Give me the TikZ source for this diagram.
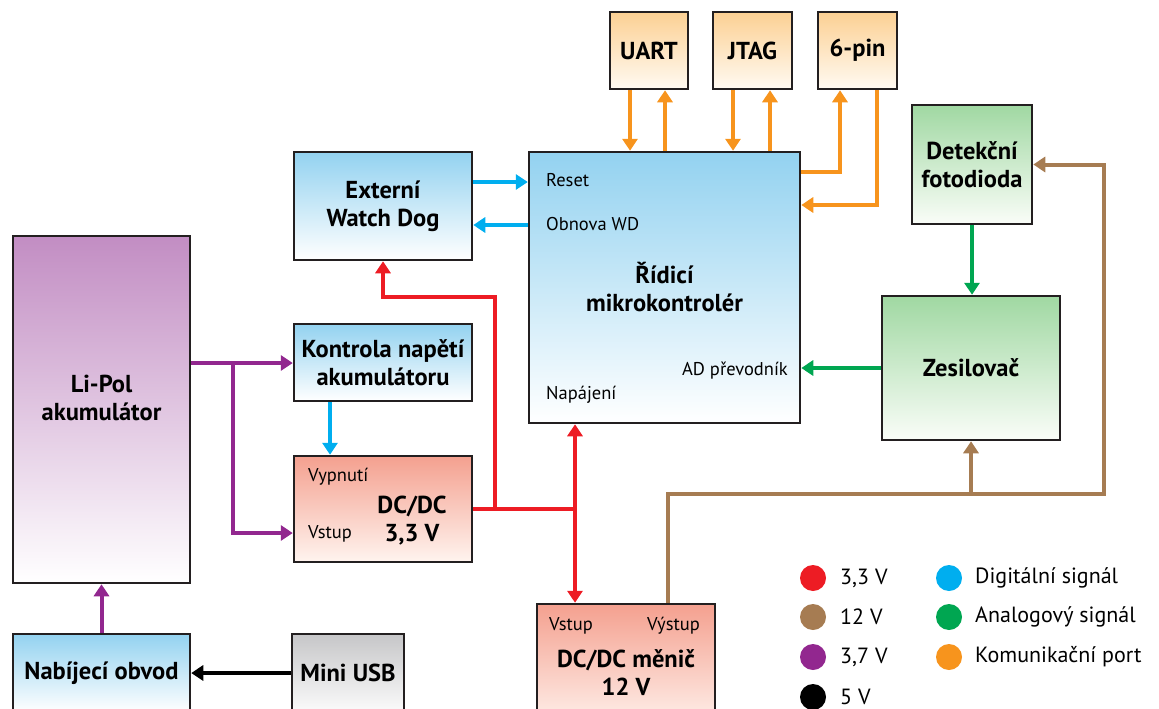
\documentclass[tikz,border=0pt]{standalone}
\usepackage{fontspec}
\setmainfont{PT Sans}
\usetikzlibrary{arrows.meta,calc}
\definecolor{cborder}{HTML}{231F20}
\definecolor{cred}{HTML}{ED1C24}
\definecolor{cbrown}{HTML}{A67C52}
\definecolor{cpurple}{HTML}{92278F}
\definecolor{cblue}{HTML}{00AEEF}
\definecolor{cgreen}{HTML}{00A651}
\definecolor{corange}{HTML}{F7941D}
\definecolor{blueTop}{HTML}{93D2F0}
\definecolor{blueBot}{HTML}{FFFFFF}
\definecolor{purTop}{HTML}{C28DC3}
\definecolor{purBot}{HTML}{FFFFFF}
\definecolor{salTop}{HTML}{F4A08F}
\definecolor{salBot}{HTML}{FFF4EF}
\definecolor{grnTop}{HTML}{A0D8A2}
\definecolor{grnBot}{HTML}{FAFDF8}
\definecolor{oraTop}{HTML}{FCD093}
\definecolor{oraBot}{HTML}{FFFAF2}
\definecolor{gryTop}{HTML}{C6C6C8}
\definecolor{gryBot}{HTML}{FBFBFB}
\tikzset{
  blk/.style={draw=cborder, line width=2.5pt, inner sep=0pt, align=center,
    font=\fontsize{24.5}{28}\selectfont\bfseries},
  ttl/.style={inner sep=0pt, align=center, font=\fontsize{24.5}{28}\selectfont\bfseries},
  lbl/.style={inner sep=0pt, font=\fontsize{18.5}{20}\selectfont},
  legtxt/.style={inner sep=0pt, anchor=west, text=black, font=\fontsize{22}{25}\selectfont},
  wire/.style={line width=4pt},
  tip/.style={-{Triangle[length=12pt,width=15pt]}},
  tips/.style={{Triangle[length=12pt,width=15pt]}-{Triangle[length=12pt,width=15pt]}},
  bluebox/.style={blk, top color=blueTop, bottom color=blueBot},
  purbox/.style={blk, top color=purTop, bottom color=purBot},
  salbox/.style={blk, top color=salTop, bottom color=salBot},
  grnbox/.style={blk, top color=grnTop, bottom color=grnBot},
  orabox/.style={blk, top color=oraTop, bottom color=oraBot},
  grybox/.style={blk, top color=gryTop, bottom color=gryBot},
}
\begin{document}
\begin{tikzpicture}[x=1pt,y=-1pt]
\useasboundingbox (0,0) rectangle (1159,709);
\clip (0,0) rectangle (1159,709);

% ---- blocks ----
\node[orabox, minimum width=78pt, minimum height=77pt] (uart) at (649,50.5) {UART};
\node[orabox, minimum width=79pt, minimum height=77pt] (jtag) at (752.5,50.5) {JTAG};
\node[orabox, minimum width=79pt, minimum height=77pt] (sixpin) at (857.5,50.5) {6-pin};

\node[bluebox, minimum width=271pt, minimum height=271pt] (mcu) at (664.5,287.5) {Řídicí\\mikrokontrolér};
\node[bluebox, minimum width=178pt, minimum height=108pt] (wd) at (383,206) {Externí\\Watch Dog};
\node[purbox, minimum width=177pt, minimum height=347pt] (lipol) at (101.5,409.5) {};
\node[ttl] (lipolt) at (101.5,398) {Li-Pol\\akumulátor};
\node[bluebox, minimum width=178pt, minimum height=77pt] (kontrola) at (383,362.5) {Kontrola napětí\\akumulátoru};
\node[salbox, minimum width=178pt, minimum height=106pt] (dc33) at (383,509) {};
\node[bluebox, minimum width=177pt, minimum height=78pt] (nab) at (101.5,673) {Nabíjecí obvod};
\node[grybox, minimum width=112pt, minimum height=78pt] (musb) at (348,673) {Mini USB};
\node[salbox, minimum width=178pt, minimum height=126pt] (dc12) at (626,667) {};
\node[grnbox, minimum width=120pt, minimum height=119pt] (foto) at (972,164.5) {Detekční\\fotodioda};
\node[grnbox, minimum width=178pt, minimum height=144pt] (zes) at (971,368) {Zesilovač};

% ---- texts inside blocks ----
\node[lbl, anchor=west] (lreset) at (546,180) {Reset};
\node[lbl, anchor=west] (lobnova) at (546,224) {Obnova WD};
\node[lbl, anchor=east] (lad) at (788,371) {AD převodník};
\node[lbl, anchor=west] (lnap) at (546,395) {Napájení};
\node[lbl, anchor=west] (lvyp) at (308,477) {Vypnutí};
\node[lbl, anchor=west] (lvst1) at (308,534) {Vstup};
\node[ttl] (dc33t) at (412,521) {DC/DC\\3,3 V};
\node[lbl, anchor=west] (lvst2) at (549,626) {Vstup};
\node[lbl, anchor=east] (lvys) at (700,626) {Výstup};
\node[ttl] (dc12t) at (626,673) {DC/DC měnič\\12 V};

% ---- helper coordinates ----
\coordinate (u1) at (630,0);
\coordinate (u2) at (665,0);
\coordinate (j1) at (733,0);
\coordinate (j2) at (770,0);
\coordinate (s1) at (840,172);
\coordinate (s2) at (877,205);
\coordinate (r1) at (500,182);
\coordinate (r2) at (500,225);
\coordinate (k1) at (330,0);
\coordinate (p1) at (233,363);
\coordinate (p2) at (233,533);
\coordinate (rr) at (495,297);
\coordinate (v1) at (575,0);
\coordinate (b1) at (668,494);
\coordinate (b2) at (1104,494);

% ---- orange: communication ----
\draw[wire, corange, tip] (u1 |- uart.south) -- (u1 |- mcu.north);
\draw[wire, corange, tip] (u2 |- mcu.north) -- (u2 |- uart.south);
\draw[wire, corange, tip] (j1 |- jtag.south) -- (j1 |- mcu.north);
\draw[wire, corange, tip] (j2 |- mcu.north) -- (j2 |- jtag.south);
\draw[wire, corange, tip] (s1 -| mcu.east) -| (s1 |- sixpin.south);
\draw[wire, corange, tip] (s2 |- sixpin.south) |- (s2 -| mcu.east);

% ---- blue: digital ----
\draw[wire, cblue, tip] (r1 -| wd.east) -- (r1 -| mcu.west);
\draw[wire, cblue, tip] (r2 -| mcu.west) -- (r2 -| wd.east);
\draw[wire, cblue, tip] (k1 |- kontrola.south) -- (k1 |- dc33.north);

% ---- purple: 3,7 V ----
\draw[wire, cpurple, tip] (p1 -| lipol.east) -- (p1 -| kontrola.west);
\draw[wire, cpurple, tip] ([yshift=-2pt]p1) |- (p2 -| dc33.west);
\draw[wire, cpurple, tip] (nab.north) -- (lipol.south);

% ---- black: 5 V ----
\draw[wire, black, tip] (musb.west) -- (nab.east);

% ---- red: 3,3 V ----
\draw[wire, cred] (dc33.east) -- (v1 |- dc33.east);
\draw[wire, cred, tip] (rr |- dc33.east) -- (rr) -| (wd.south);
\draw[wire, cred, tips] (v1 |- mcu.south) -- (v1 |- dc12.north);

% ---- brown: 12 V ----
\draw[wire, cbrown, tip] (b1 |- dc12.north) -- (b1) -- (b2) |- (foto.east);
\draw[wire, cbrown, tip] (zes.south |- b1) -- (zes.south);

% ---- green: analog ----
\draw[wire, cgreen, tip] (foto.south) -- (foto.south |- zes.north);
\draw[wire, cgreen, tip] (zes.west) -- (zes.west -| mcu.east);

% ---- legend ----
\fill[cred] (813,578) circle (13);
\node[legtxt] (lg1) at (840,578) {3,3 V};
\fill[cbrown] (813,617) circle (13);
\node[legtxt] (lg2) at (840,617) {12 V};
\fill[cpurple] (813,657) circle (13);
\node[legtxt] (lg3) at (840,657) {3,7 V};
\fill[black] (813,697) circle (13);
\node[legtxt] (lg4) at (840,697) {5 V};
\fill[cblue] (949,578) circle (13);
\node[legtxt] (lg5) at (975,578) {Digitální signál};
\fill[cgreen] (949,617) circle (13);
\node[legtxt] (lg6) at (975,617) {Analogový signál};
\fill[corange] (949,657) circle (13);
\node[legtxt] (lg7) at (975,657) {Komunikační port};
\end{tikzpicture}
\end{document}
